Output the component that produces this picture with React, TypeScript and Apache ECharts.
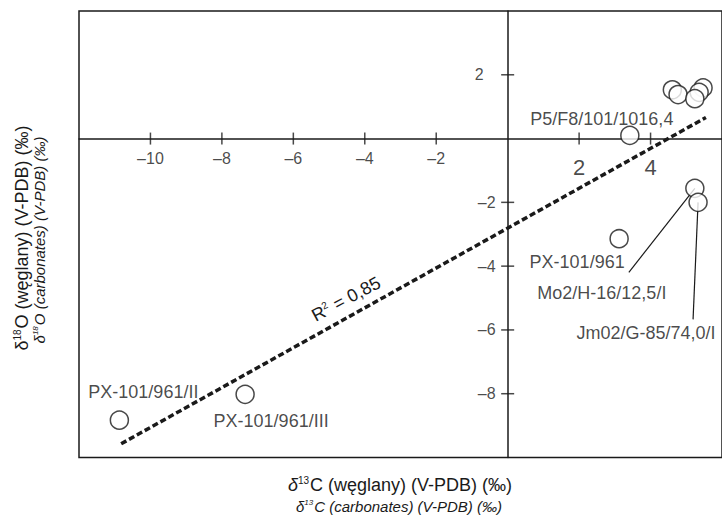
import React, { useEffect, useRef } from "react";
import * as echarts from "echarts";

// ---- data ----
const sampleNames = [
  "P5/F8/101/1016,4",
  "PX-101/961",
  "Mo2/H-16/12,5/I",
  "Jm02/G-85/74,0/I",
  "PX-101/961/II",
  "PX-101/961/III",
];
const sampleC13 = [3.42, 3.12, 5.24, 5.33, -10.87, -7.35];
const sampleO18 = [0.1, -3.14, -1.56, -2.0, -8.83, -8.02];

const clusterC13 = [4.61, 4.77, 5.47, 5.36, 5.24];
const clusterO18 = [1.53, 1.38, 1.59, 1.45, 1.25];

const trendC13 = [-10.82, 5.55];
const trendO18 = [-9.57, 0.66];
const r2Text = "0,85";

const xTickValues = [-10, -8, -6, -4, -2, 2, 4];
const yTickValues = [2, -2, -4, -6, -8];

// ---- layout (label offsets in px) ----
const labelOffsets: [number, number][] = [
  [-28, -16],
  [-42, 23],
  [-93, 105],
  [-52, 131],
  [24, -28],
  [26, 27],
];
// leader lines (from point, to offset), null = none
const leaderEnds: ([number, number] | null)[] = [null, null, [-66, 84], [-5, 117], null, null];

const FONT = "'Liberation Sans', Arial, Helvetica, sans-serif";
const INK = "#1a1a1a";

const fmtNum = (v: number) => (v < 0 ? `–${-v}` : `${v}`);

export default function App() {
  const ref = useRef<HTMLDivElement>(null);
  useEffect(() => {
    document.body.style.margin = "0";
    if (!ref.current) return;
    const chart = echarts.init(ref.current, undefined, { renderer: "svg" });

    const sampleData = sampleNames.map((n, i) => ({
      value: [sampleC13[i], sampleO18[i]],
      name: n,
      label: {
        show: true,
        formatter: n,
        position: "inside",
        offset: labelOffsets[i],
        fontSize: 18,
        fontFamily: FONT,
        color: INK,
      },
    }));

    const xTickData = xTickValues.map((x) => ({
      value: [x, 0],
      label: {
        show: true,
        formatter: fmtNum(x),
        position: "inside",
        offset: x < 0 ? [0, 20] : [0, 29],
        fontSize: x < 0 ? 16 : 22,
        fontFamily: FONT,
        color: INK,
      },
    }));
    const yTickData = yTickValues.map((y) => ({
      value: [0, y],
      label: {
        show: true,
        formatter: fmtNum(y),
        position: "inside",
        align: "right",
        offset: y < 0 ? [-12, 0] : [-24, 0],
        fontSize: 16,
        fontFamily: FONT,
        color: INK,
      },
    }));

    const symStyle = { color: "#fff", borderColor: INK, borderWidth: 1.5 };
    const supRich = (size: number, italic: boolean) => ({
      t: { fontSize: size, fontFamily: FONT, fill: INK, color: INK, fontStyle: italic ? "italic" : "normal" },
      d: { fontSize: size, fontFamily: FONT, fill: INK, color: INK, fontStyle: "italic" },
      s: {
        fontSize: Math.round(size * 0.55),
        fontFamily: FONT,
        color: INK,
        fill: INK,
        fontStyle: italic ? "italic" : "normal",
        padding: [0, 1, Math.round(size * 0.5), 0],
      },
    });

    chart.setOption({
      animation: false,
      grid: {
        left: 79,
        top: 11,
        right: -1,
        bottom: 57.5,
        show: true,
        borderColor: INK,
        borderWidth: 1.5,
        backgroundColor: "transparent",
      },
      xAxis: {
        type: "value",
        min: -12,
        max: 6,
        interval: 2,
        axisLine: { onZero: true, lineStyle: { color: INK, width: 1.5 } },
        axisTick: { show: false },
        splitLine: { show: false },
        axisLabel: { show: false },
      },
      yAxis: {
        type: "value",
        min: -10,
        max: 4,
        interval: 2,
        axisLine: { onZero: true, lineStyle: { color: INK, width: 1.5 } },
        axisTick: { show: false },
        splitLine: { show: false },
        axisLabel: { show: false },
      },
      series: [
        {
          type: "line",
          data: trendC13.map((x, i) => [x, trendO18[i]]),
          symbol: "none",
          lineStyle: { color: INK, width: 3.5, type: [6, 3] },
          z: 1,
        },
        {
          type: "scatter",
          data: xTickData,
          symbol: "rect",
          symbolSize: [1.5, 12],
          itemStyle: { color: INK },
          silent: true,
          z: 1,
        },
        {
          type: "scatter",
          data: yTickData,
          symbol: "rect",
          symbolSize: [13, 1.5],
          itemStyle: { color: INK },
          silent: true,
          z: 1,
        },
        {
          type: "scatter",
          data: clusterC13.map((x, i) => [x, clusterO18[i]]),
          symbol: "circle",
          symbolSize: 18,
          itemStyle: symStyle,
          z: 3,
        },
        {
          type: "scatter",
          data: sampleData,
          symbol: "circle",
          symbolSize: 18,
          itemStyle: symStyle,
          z: 3,
        },
      ],
    });

    const graphics: any[] = [];
    sampleNames.forEach((_, i) => {
      const end = leaderEnds[i];
      if (!end) return;
      const p = chart.convertToPixel({ gridIndex: 0 }, [sampleC13[i], sampleO18[i]]) as number[];
      graphics.push({
        type: "line",
        z: 0,
        shape: { x1: p[0], y1: p[1], x2: p[0] + end[0], y2: p[1] + end[1] },
        style: { stroke: INK, lineWidth: 1.2 },
      });
    });

    const txt = (x: number, y: number, text: string, size: number, italic: boolean, rotation = 0) => ({
      type: "text",
      x,
      y,
      rotation,
      style: {
        text,
        rich: supRich(size, italic),
        align: "center",
        textAlign: "center",
        verticalAlign: "middle",
        textVerticalAlign: "middle",
        fill: INK,
      },
    });

    graphics.push(
      txt(400, 485, "{d|δ}{s|13}{t|C (węglany) (V-PDB) (‰)}", 18, false),
      txt(399, 506, "{t|δ}{s|13}{t|C (carbonates) (V-PDB) (‰)}", 15, true),
      txt(22, 238, "{t|δ}{s|18}{t|O (węglany) (V-PDB) (‰)}", 18, false, Math.PI / 2),
      txt(39, 240, "{t|δ}{s|18}{t|O (carbonates) (V-PDB) (‰)}", 15, true, Math.PI / 2),
      txt(346, 299, `{t|R}{s|2}{t| = ${r2Text}}`, 18, false, (28 * Math.PI) / 180)
    );
    chart.setOption({ graphic: graphics });

    return () => chart.dispose();
  }, []);
  return <div ref={ref} style={{ width: 722, height: 515 }} />;
}
